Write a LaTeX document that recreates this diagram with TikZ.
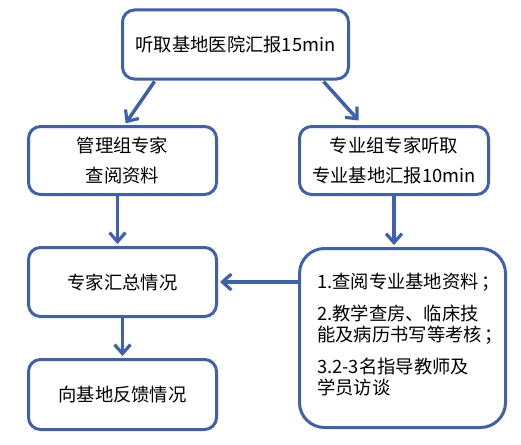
\documentclass[tikz,border=0pt]{standalone}
\usepackage{fontspec}
\setmainfont{Noto Sans CJK SC}
\usetikzlibrary{arrows.meta,calc}
\definecolor{boxblue}{RGB}{62,96,174}
\begin{document}
\begin{tikzpicture}[x=1pt,y=-1pt,
  box/.style={draw=boxblue,line width=3pt,rounded corners=12pt,fill=white,
    inner sep=0pt,align=center,font=\fontsize{18.3}{30}\selectfont},
  arr/.style={draw=boxblue,line width=3.5pt,
    -{Straight Barb[length=9pt,width=16pt,line width=3.2pt]},shorten >=2pt}]
\useasboundingbox (0,0) rectangle (521,444);
\node[box,minimum width=226pt,minimum height=69pt] (top) at (235.5,44.5) {听取基地医院汇报15min};
\node[box,minimum width=188pt,minimum height=68pt] (l2) at (122.5,160.5) {管理组专家\\查阅资料};
\node[box,minimum width=189pt,minimum height=68pt] (r2) at (394,160.5) {专业组专家听取\\专业基地汇报10min};
\node[box,minimum width=188pt,minimum height=69pt] (l3) at (122.5,282) {专家汇总情况};
\node[box,minimum width=188pt,minimum height=70pt] (l4) at (122.5,394.5) {向基地反馈情况};
\node[box,rounded corners=25pt,minimum width=206pt,minimum height=179pt] (big) at (402.5,338) {};
\node[anchor=north west,inner sep=0pt,align=left,font=\fontsize{18.3}{21}\selectfont] (bt) at (317,273)
  {1.查阅专业基地资料\,；\\[11pt]2.教学查房、临床技\\能及病历书写等考核\,；\\[11pt]3.2-3名指导教师及\\学员访谈};
\draw[arr] ($(top.south)+(-81,1)$) -- ($(l2.north)+(2,0)$);
\draw[arr] ($(top.south)+(88,1)$) -- ($(r2.north)+(-34,-3)$);
\draw[arr] ($(l2.south)+(-5,0)$) -- ($(l3.north)+(-5,0)$);
\draw[arr] (r2.south) -- (r2.south |- big.north);
\draw[arr] (big.west |- l3.east) -- (l3.east);
\draw[arr] (l3.south) -- (l4.north);
\end{tikzpicture}
\end{document}
